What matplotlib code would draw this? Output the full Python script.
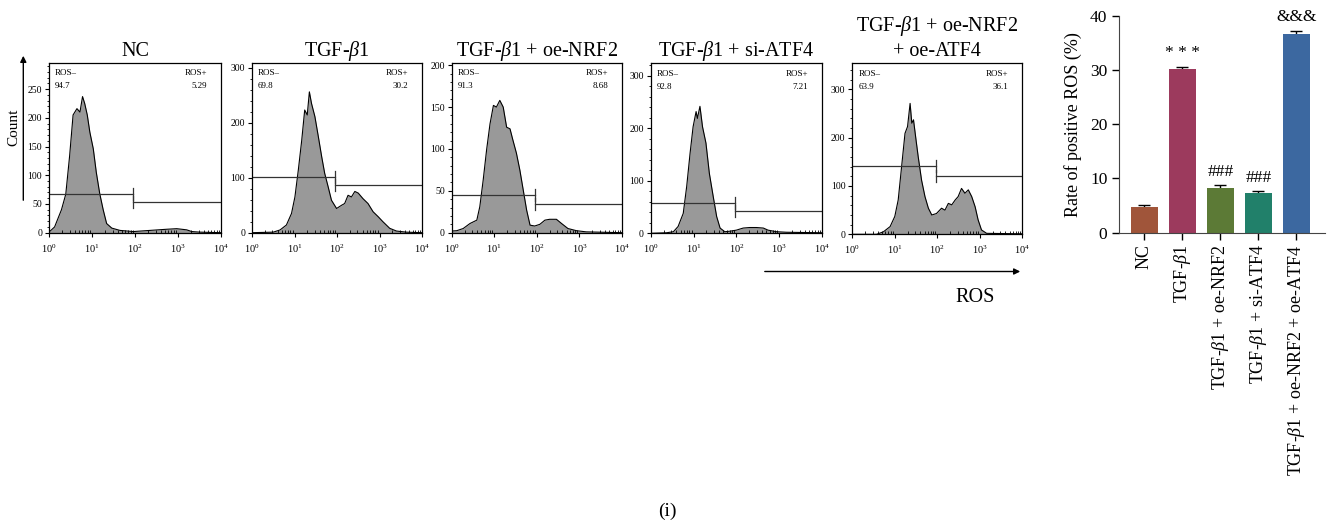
import numpy as np
import matplotlib
matplotlib.use("Agg")
import matplotlib.pyplot as plt
from matplotlib.patches import FancyArrowPatch
from matplotlib.ticker import MultipleLocator, LogLocator, NullFormatter

plt.rcParams['font.family'] = ['Liberation Serif', 'DejaVu Serif']
plt.rcParams['mathtext.fontset'] = 'custom'
plt.rcParams['mathtext.rm'] = 'Liberation Serif'
plt.rcParams['mathtext.it'] = 'Liberation Serif:italic'
plt.rcParams['mathtext.bf'] = 'Liberation Serif:bold'

# ---- flow cytometry histograms (x = log10 intensity, y = count) ----
panel_titles = ["NC", "TGF-$\\beta$1", "TGF-$\\beta$1 + oe-NRF2",
                "TGF-$\\beta$1 + si-ATF4", "TGF-$\\beta$1 + oe-NRF2\n+ oe-ATF4"]

nc_logx = [0.0, 0.13, 0.29, 0.39, 0.48, 0.56, 0.65, 0.72, 0.78, 0.83, 0.89, 0.95, 1.03,
           1.10, 1.18, 1.26, 1.34, 1.46, 1.65, 1.96, 2.35, 2.74, 2.97, 3.20, 3.32, 3.50, 4.0]
nc_count = [1, 10, 40, 67, 134, 205, 216, 210, 237, 225, 205, 175, 146,
            105, 68, 40, 16, 8, 4, 2, 4, 6, 7, 5, 2, 1, 0]

tgf_logx = [0.0, 0.50, 0.66, 0.81, 0.93, 1.01, 1.09, 1.17, 1.24, 1.30, 1.35, 1.40, 1.48, 1.56,
            1.64, 1.71, 1.79, 1.87, 1.99, 2.11, 2.18, 2.26, 2.34, 2.42, 2.50, 2.61, 2.73,
            2.85, 2.97, 3.08, 3.24, 3.40, 3.63, 4.0]
tgf_count = [0, 1, 5, 14, 35, 65, 114, 168, 223, 214, 256, 235, 211, 175,
             138, 108, 84, 59, 44, 50, 53, 68, 65, 75, 72, 62, 53,
             38, 29, 20, 8, 3, 1, 0]

nrf2_logx = [0.0, 0.12, 0.27, 0.43, 0.59, 0.66, 0.74, 0.82, 0.90, 0.98, 1.05, 1.13, 1.21,
             1.29, 1.37, 1.43, 1.52, 1.60, 1.68, 1.76, 1.84, 1.95, 2.07, 2.19, 2.30, 2.46,
             2.58, 2.73, 2.93, 3.16, 4.0]
nrf2_count = [2, 2.4, 5, 11, 15, 31, 63, 99, 130, 152, 150, 158, 150,
              126, 124, 112, 95, 75, 51, 27, 9, 8, 10, 15, 16, 16,
              11, 5, 2.4, 1, 0]

atf4_logx = [0.0, 0.37, 0.53, 0.64, 0.76, 0.84, 0.92, 0.99, 1.06, 1.09, 1.15, 1.21, 1.29,
             1.37, 1.46, 1.54, 1.62, 1.73, 1.85, 2.00, 2.16, 2.31, 2.47, 2.63, 2.74, 2.94,
             3.17, 4.0]
atf4_count = [0, 1, 3, 13, 38, 89, 153, 203, 232, 219, 242, 203, 172,
              114, 70, 32, 10, 3, 4, 6, 10, 11, 11, 10, 6, 3,
              2, 1]

combo_logx = [0.0, 0.57, 0.73, 0.89, 1.00, 1.08, 1.16, 1.24, 1.30, 1.36, 1.40, 1.44, 1.50,
              1.55, 1.63, 1.71, 1.79, 1.87, 1.98, 2.10, 2.18, 2.26, 2.34, 2.42, 2.49, 2.57,
              2.65, 2.73, 2.81, 2.89, 2.96, 3.04, 3.16, 4.0]
combo_count = [0, 0, 5, 16, 37, 71, 140, 209, 223, 271, 230, 237, 195,
               161, 112, 78, 54, 40, 43, 54, 50, 64, 61, 71, 78, 95,
               85, 92, 78, 57, 30, 9, 2, 1]

hist_logx = [nc_logx, tgf_logx, nrf2_logx, atf4_logx, combo_logx]
hist_count = [nc_count, tgf_count, nrf2_count, atf4_count, combo_count]

ros_neg = ["94.7", "69.8", "91.3", "92.8", "63.9"]
ros_pos = ["5.29", "30.2", "8.68", "7.21", "36.1"]
gate_neg_y = [67, 101, 45, 58, 141]
gate_pos_y = [53, 86, 34, 43, 121]
gate_split = 91
y_max = [296, 309, 203, 324, 354]
y_major = [50, 100, 50, 100, 100]
y_minor = [10, 20, 10, 20, 20]

# ---- bar chart ----
bar_labels = ["NC", "TGF-$\\beta$1", "TGF-$\\beta$1 + oe-NRF2",
              "TGF-$\\beta$1 + si-ATF4", "TGF-$\\beta$1 + oe-NRF2 + oe-ATF4"]
bar_values = [4.8, 30.2, 8.3, 7.4, 36.6]
bar_err = [0.3, 0.4, 0.5, 0.2, 0.6]
bar_marks = ["", "* * *", "###", "###", "&&&"]
bar_colors = ["#a0553a", "#9c3a5d", "#5c7a36", "#21806a", "#3c68a0"]

W, H = 1334, 525
fig = plt.figure(figsize=(W / 100, H / 100), dpi=100)


def px(l, t, r, b):
    return [l / W, 1 - b / H, (r - l) / W, (b - t) / H]


boxes = [(49, 62.7, 221, 232.7), (252, 62.7, 422, 232.7), (451.7, 62.7, 622, 232.7),
         (650.7, 63.3, 822, 233.3), (852.3, 63.3, 1022.3, 234.3)]

for i in range(5):
    ax = fig.add_axes(px(*boxes[i]))
    xs = 10 ** np.array(hist_logx[i])
    ax.fill_between(xs, hist_count[i], 0, color="#999999", lw=0)
    ax.plot(xs, hist_count[i], color="black", lw=0.8)
    ax.set_xscale("log")
    ax.set_xlim(1, 1e4)
    ax.set_ylim(0, y_max[i])
    ax.xaxis.set_major_locator(LogLocator(base=10, numticks=10))
    ax.xaxis.set_minor_locator(LogLocator(base=10, subs=np.arange(2, 10), numticks=20))
    ax.xaxis.set_minor_formatter(NullFormatter())
    ax.yaxis.set_major_locator(MultipleLocator(y_major[i]))
    ax.yaxis.set_minor_locator(MultipleLocator(y_minor[i]))
    ax.tick_params(which="major", direction="out", length=3, width=0.8, labelsize=7, pad=2)
    ax.tick_params(axis="y", which="minor", direction="out", length=1.8, width=0.6)
    ax.tick_params(axis="x", which="minor", direction="in", length=2, width=0.6)
    ax.tick_params(axis="x", labelsize=7.5, pad=4)
    for s in ax.spines.values():
        s.set_linewidth(0.9)
    # gates
    for gy, x0, x1 in [(gate_neg_y[i], 1, gate_split), (gate_pos_y[i], gate_split, 1e4)]:
        ax.plot([x0, x1], [gy, gy], color="#333333", lw=0.9)
        ax.plot([gate_split] * 2, [gy - 0.035 * y_max[i], gy + 0.035 * y_max[i]],
                color="#333333", lw=0.9)
    ax.text(0.035, 0.94, "ROS–", transform=ax.transAxes, fontsize=6.5, va="center")
    ax.text(0.035, 0.86, ros_neg[i], transform=ax.transAxes, fontsize=6.5, va="center")
    ax.text(0.92, 0.94, "ROS+", transform=ax.transAxes, fontsize=6.5, va="center", ha="right")
    ax.text(0.92, 0.86, ros_pos[i], transform=ax.transAxes, fontsize=6.5, va="center", ha="right")
    ax.set_title(panel_titles[i], fontsize=14.5, pad=5, linespacing=1.3)

# axis arrows and labels
fig.add_artist(FancyArrowPatch((23.3 / W, 1 - 203 / H), (23.3 / W, 1 - 53 / H),
                               transform=fig.transFigure, arrowstyle="-|>",
                               mutation_scale=9, lw=1, color="black"))
fig.text(14 / W, 1 - 127 / H, "Count", rotation=90, fontsize=11, ha="center", va="center")
fig.add_artist(FancyArrowPatch((762 / W, 1 - 271.5 / H), (1023 / W, 1 - 271.5 / H),
                               transform=fig.transFigure, arrowstyle="-|>",
                               mutation_scale=9, lw=1, color="black"))
fig.text(975 / W, 1 - 297 / H, "ROS", fontsize=14.5, ha="center", va="center")
fig.text(667 / W, 1 - 511 / H, "(i)", fontsize=14, ha="center", va="center")

# bar chart
bx = fig.add_axes(px(1119.3, 15.7, 1325, 232.7))
pos = np.arange(len(bar_values))
bx.errorbar(pos, bar_values, yerr=bar_err, fmt="none", ecolor="black", elinewidth=1,
            capsize=4, capthick=1, zorder=1)
bx.bar(pos, bar_values, width=0.7, color=bar_colors, zorder=2)
for p, v, e, m in zip(pos, bar_values, bar_err, bar_marks):
    if m:
        bx.text(p, v + e + 1.0, m, ha="center", va="bottom", fontsize=12.5)
bx.set_xlim(-0.656, 4.75)
bx.set_ylim(0, 40)
bx.yaxis.set_major_locator(MultipleLocator(10))
bx.set_xticks(pos)
bx.set_xticklabels(bar_labels, rotation=90, fontsize=13)
bx.tick_params(axis="y", labelsize=12.5, length=5, width=1)
bx.tick_params(axis="x", length=5, width=1)
for s in ["left", "bottom"]:
    bx.spines[s].set_color("#444444")
bx.spines["top"].set_visible(False)
bx.spines["right"].set_visible(False)
bx.set_ylabel("Rate of positive ROS (%)", fontsize=13, labelpad=6)

fig.savefig("out.png", dpi=100)
